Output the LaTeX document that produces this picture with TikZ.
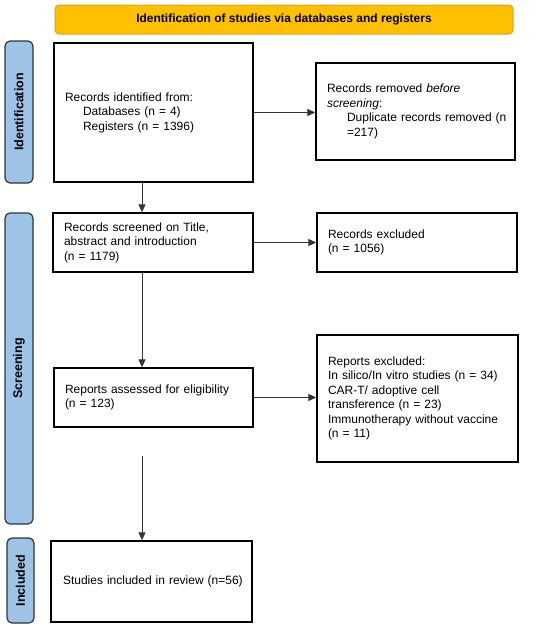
\documentclass[tikz,border=0pt]{standalone}
\usepackage{fontspec}
\setmainfont{Liberation Sans}
\usetikzlibrary{arrows.meta}
\definecolor{hdrfill}{HTML}{FFC000}
\definecolor{hdrline}{HTML}{D9A521}
\definecolor{sidefill}{HTML}{9DC3E6}
\definecolor{sideline}{HTML}{2E3440}
\definecolor{arrline}{HTML}{333333}
\tikzset{
  flowbox/.style={draw=black, line width=1.4pt, rectangle, inner xsep=11pt, inner ysep=0pt,
    align=left, font=\fontsize{12}{14.5}\selectfont, anchor=center},
  sidebar/.style={draw=sideline, fill=sidefill, line width=1.2pt, rounded corners=5pt, rectangle,
    inner sep=0pt, anchor=center},
  sidetext/.style={rotate=90, font=\bfseries\fontsize{12.5}{14}\selectfont},
  arr/.style={draw=arrline, line width=0.9pt, -{Triangle[length=8pt,width=7pt]}},
}
\begin{document}
\begin{tikzpicture}[x=1pt,y=1pt]
\useasboundingbox (0,0) rectangle (550,-630);
% header
\node[draw=hdrline, fill=hdrfill, line width=1pt, rounded corners=4pt, minimum width=458pt, minimum height=29pt,
  font=\bfseries\fontsize{12}{14}\selectfont] (hdr) at (284,-19.5) {Identification of studies via databases and registers};
% side bars
\node[sidebar, minimum width=28pt, minimum height=142pt] (s1) at (19,-112) {};
\node[sidetext] (s1t) at (s1.center) {Identification};
\node[sidebar, minimum width=28pt, minimum height=311pt] (s2) at (19,-368.5) {};
\node[sidetext] (s2t) at (s2.center) {Screening};
\node[sidebar, minimum width=27pt, minimum height=85pt] (s3) at (20.5,-580.5) {};
\node[sidetext] (s3t) at (s3.center) {Included};
% boxes
\node[flowbox, minimum width=199pt, minimum height=139pt, text width=177pt] (b1) at (153.5,-112.5)
  {Records identified from:\\\hspace*{18pt}Databases (n = 4)\\\hspace*{18pt}Registers (n = 1396)};
\node[flowbox, minimum width=199pt, minimum height=97pt, text width=177pt] (b2) at (415.5,-111.5)
  {Records removed \textit{before}\\\textit{screening}:\\\hspace*{20pt}\mbox{Duplicate records removed (n}\\\hspace*{20pt}=217)};
\node[flowbox, minimum width=200pt, minimum height=59pt, text width=178pt] (b3) at (153,-242.5)
  {Records screened on Title,\\abstract and introduction\\(n = 1179)};
\node[flowbox, minimum width=200pt, minimum height=59pt, text width=178pt] (b4) at (417,-242.5)
  {Records excluded\\(n = 1056)};
\node[flowbox, minimum width=199pt, minimum height=59pt, text width=177pt] (b5) at (153.5,-397.5)
  {Reports assessed for eligibility\\(n = 123)};
\node[flowbox, minimum width=201pt, minimum height=127pt, text width=179pt] (b6) at (417.5,-398.5)
  {Reports excluded:\\\mbox{In silico/In vitro studies (n = 34)}\\CAR-T/ adoptive cell\\transference (n = 23)\\\mbox{Immunotherapy without vaccine}\\(n = 11)};
\node[flowbox, minimum width=201pt, minimum height=81pt, text width=177pt] (b7) at (151.5,-581.5)
  {\mbox{Studies included in review (n=56)}};
% connectors
\coordinate (xa) at (142,0);
\coordinate (free) at (142,-456);
\draw[arr] (b1.south -| xa) -- (b3.north -| xa);
\draw[arr] (b3.south -| xa) -- (b5.north -| xa);
\draw[arr] (free) -- (b7.north -| xa);
\draw[arr] (b1.east) -- (b1.east -| b2.west);
\draw[arr] (b3.east) -- (b3.east -| b4.west);
\draw[arr] (b5.east) -- (b5.east -| b6.west);
\end{tikzpicture}
\end{document}
